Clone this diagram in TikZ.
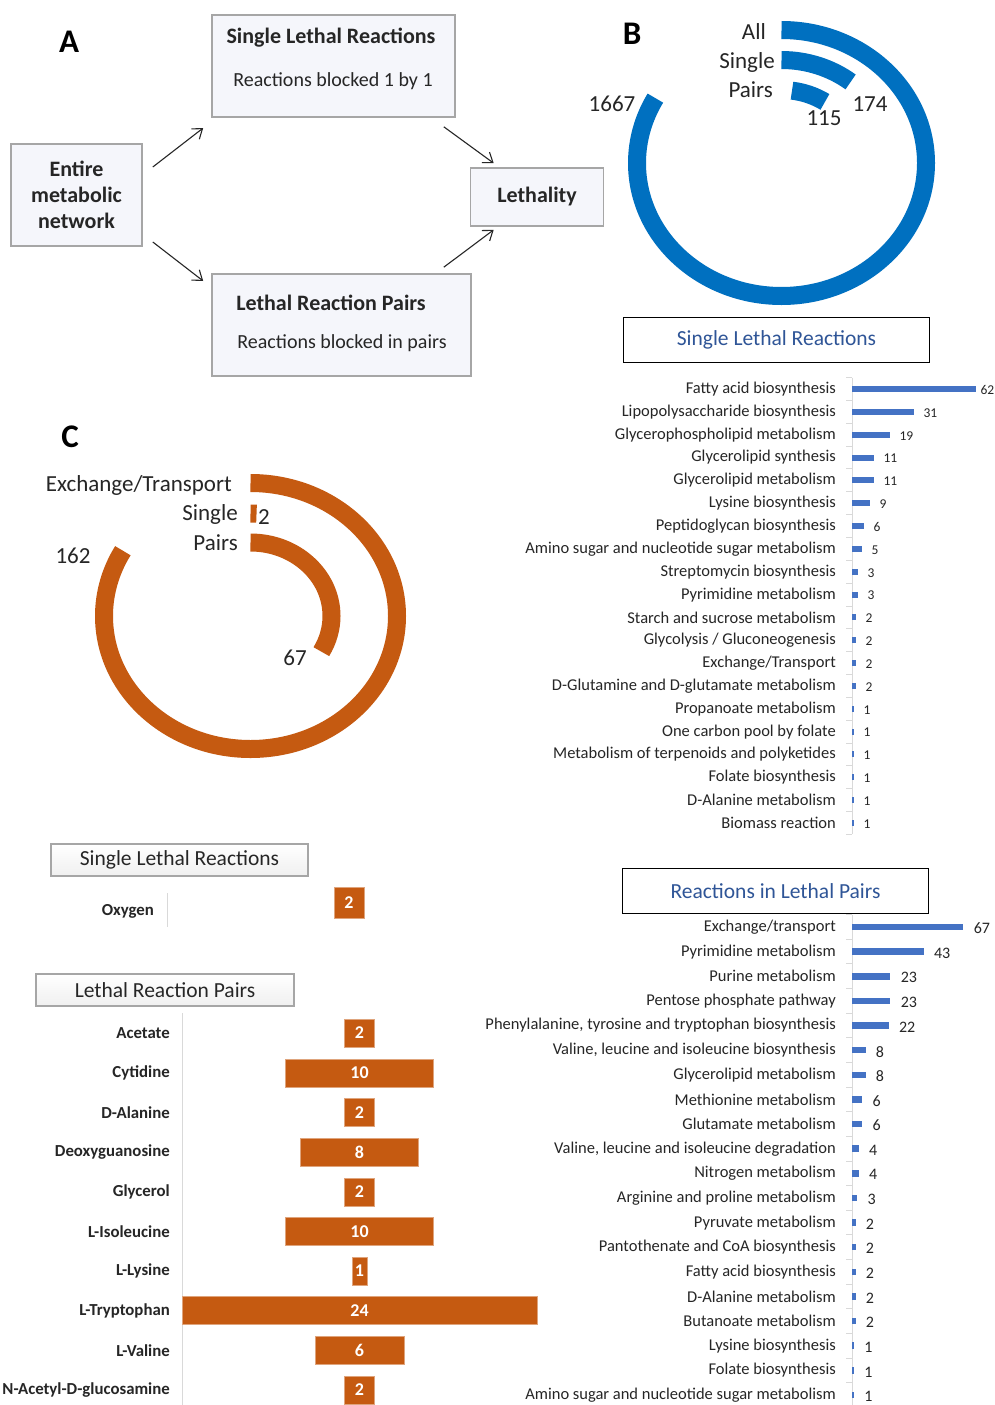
\documentclass[tikz,border=0pt]{standalone}
\usepackage{fontspec}
\setmainfont{Carlito}
\usepackage{tikz}
\usetikzlibrary{arrows.meta,calc}

\definecolor{ringblue}{HTML}{0070C0}
\definecolor{barblue}{HTML}{4472C4}
\definecolor{titleblue}{HTML}{2F5597}
\definecolor{barorange}{HTML}{C55A11}
\definecolor{boxfill}{HTML}{F5F6FB}
\definecolor{boxline}{HTML}{A6A6A6}
\definecolor{axisgray}{HTML}{D9D9D9}
\definecolor{txt}{HTML}{262626}

\tikzset{
	abox/.style={draw=boxline, line width=1.6pt, fill=boxfill, inner sep=0pt},
	atitle/.style={font=\fontsize{22}{26}\selectfont\bfseries, text=txt, inner sep=0pt},
	asub/.style={font=\fontsize{20}{24}\selectfont, text=txt, inner sep=0pt},
	flow/.style={-{Straight Barb[length=9pt,width=13pt]}, line width=1.1pt, draw=txt},
	panel/.style={font=\fontsize{33}{36}\selectfont\bfseries, inner sep=0pt},
	ringlab/.style={font=\fontsize{23}{26}\selectfont, text=txt, inner sep=0pt},
	ringB/.style={draw=ringblue, line width=18pt},
	ringC/.style={draw=barorange, line width=18pt},
	charttitle/.style={draw=black, line width=1.5pt, minimum width=306pt, minimum height=45pt, text=titleblue, font=\fontsize{21.5}{24}\selectfont},
	lbox/.style={draw=boxline, line width=1.2pt, top color=white, bottom color=gray!12, minimum height=32pt, inner sep=0pt, font=\fontsize{21.5}{24}\selectfont, text=txt},
	rowlab/.style={anchor=east, inner sep=0pt, font=\fontsize{16.5}{18}\selectfont, text=txt},
	snum/.style={inner sep=0pt, xshift=9pt, yshift=-1pt, font=\fontsize{13.5}{15}\selectfont, text=txt},
	pnum/.style={inner sep=0pt, xshift=10pt, yshift=-1.5pt, font=\fontsize{16}{18}\selectfont, text=txt},
	sbar/.style={anchor=west, fill=barblue, inner sep=0pt, minimum height=6pt},
	pbar/.style={anchor=west, fill=barblue, inner sep=0pt, minimum height=6.5pt},
	olab/.style={anchor=east, inner sep=0pt, font=\fontsize{16.8}{19}\selectfont\bfseries, text=txt},
	obar/.style={fill=barorange, draw=barorange!55!white, line width=0.6pt, minimum height=28pt, inner sep=0pt, text=white, font=\fontsize{18}{20}\selectfont\bfseries},
	axis/.style={draw=axisgray, line width=1pt}
}

\begin{document}
\begin{tikzpicture}[x=1pt, y=-1pt]
	\useasboundingbox[fill=white] (0,0) rectangle (994,1405);

	% A : workflow
	\node[panel] (pa) at (69,42) {A};
	\node[abox, minimum width=243pt, minimum height=102pt] (slr) at (333.5,66) {};
	\node[atitle] (slrt) at (331,38) {Single Lethal Reactions};
	\node[asub] (slrs) at (333,81) {Reactions blocked 1 by 1};
	\node[abox, minimum width=131pt, minimum height=102pt, align=center, font=\fontsize{22}{26}\selectfont\bfseries, text=txt] (ent) at (76.5,195) {Entire\\metabolic\\network};
	\node[abox, minimum width=133pt, minimum height=58pt, font=\fontsize{22}{26}\selectfont\bfseries, text=txt] (leth) at (537,197) {Lethality};
	\node[abox, minimum width=259pt, minimum height=102pt] (lrp) at (341.5,325) {};
	\node[atitle] (lrpt) at (331,303) {Lethal Reaction Pairs};
	\node[asub] (lrps) at (342,343) {Reactions blocked in pairs};

	\draw[flow] ($(ent.east)+(10,-28)$) -- ($(slr.west)+(-8,62)$);
	\draw[flow] ($(ent.east)+(10,47)$) -- ($(lrp.west)+(-8,-44)$);
	\draw[flow] ($(slr.south east)+(-12,9)$) -- ($(leth.north west)+(24,-4)$);
	\draw[flow] ($(lrp.north east)+(-28,-6)$) -- ($(leth.south west)+(24,3)$);

	% B : blue rings
	\node[panel] (pb) at (632,34) {B};
	\coordinate (cb) at (781.5,163);
	\draw[ringB] ($(cb)+(90:144.5pt and 133pt)$) arc[start angle=90, end angle=-209.2, x radius=144.5pt, y radius=133pt];
	\draw[ringB] ($(cb)+(90:112pt and 103pt)$) arc[start angle=90, end angle=51.9, x radius=112pt, y radius=103pt];
	\draw[ringB] ($(cb)+(82.4:79.3pt and 73pt)$) arc[start angle=82.4, end angle=56.8, x radius=79.3pt, y radius=73pt];
	\node[ringlab, anchor=east] (ball) at (766,32) {All};
	\node[ringlab, anchor=east] (bsin) at (775,62) {Single};
	\node[ringlab, anchor=east] (bpai) at (773,90) {Pairs};
	\node[ringlab] (b1667) at (612,104) {1667};
	\node[ringlab] (b174) at (870,104) {174};
	\node[ringlab] (b115) at (824,118) {115};

	% C : orange rings
	\node[panel] (pc) at (70,437) {C};
	\coordinate (cc) at (250.5,616);
	\draw[ringC] ($(cc)+(90:146.5pt and 133pt)$) arc[start angle=90, end angle=-209.4, x radius=146.5pt, y radius=133pt];
	\draw[ringC] ($(cc)+(90:111.5pt and 102.5pt)$) arc[start angle=90, end angle=86.9, x radius=111.5pt, y radius=102.5pt];
	\draw[ringC] ($(cc)+(90:81pt and 73.5pt)$) arc[start angle=90, end angle=-29, x radius=81pt, y radius=73.5pt];
	\node[ringlab, anchor=east] (cex) at (232,485) {Exchange/Transport};
	\node[ringlab, anchor=east] (csin) at (238,514) {Single};
	\node[ringlab, anchor=east] (cpai) at (238,543) {Pairs};
	\node[ringlab] (c162) at (73,556) {162};
	\node[ringlab] (c67) at (295,658) {67};
	\node[ringlab] (c2) at (264,517) {2};

	% single lethal reactions, by pathway
	\node[charttitle] (st) at (776.5,340) {Single Lethal Reactions};
	\draw[axis] (852,377.6) -- (852,834.4);
	\foreach \k in {0,...,20} \draw[axis] (846,{377.6+22.84*\k}) -- (852,{377.6+22.84*\k});
	\node[rowlab] (s1) at (836,389) {Fatty acid biosynthesis};
	\node[rowlab] (s2) at (836,411.8) {Lipopolysaccharide biosynthesis};
	\node[rowlab] (s3) at (836,434.7) {Glycerophospholipid metabolism};
	\node[rowlab] (s4) at (836,457.5) {Glycerolipid synthesis};
	\node[rowlab] (s5) at (836,480.4) {Glycerolipid metabolism};
	\node[rowlab] (s6) at (836,503.2) {Lysine biosynthesis};
	\node[rowlab] (s7) at (836,526) {Peptidoglycan biosynthesis};
	\node[rowlab] (s8) at (836,548.9) {Amino sugar and nucleotide sugar metabolism};
	\node[rowlab] (s9) at (836,571.7) {Streptomycin biosynthesis};
	\node[rowlab] (s10) at (836,594.6) {Pyrimidine metabolism};
	\node[rowlab] (s11) at (836,617.4) {Starch and sucrose metabolism};
	\node[rowlab] (s12) at (836,640.2) {Glycolysis / Gluconeogenesis};
	\node[rowlab] (s13) at (836,663.1) {Exchange/Transport};
	\node[rowlab] (s14) at (836,685.9) {D-Glutamine and D-glutamate metabolism};
	\node[rowlab] (s15) at (836,708.8) {Propanoate metabolism};
	\node[rowlab] (s16) at (836,731.6) {One carbon pool by folate};
	\node[rowlab] (s17) at (836,754.4) {Metabolism of terpenoids and polyketides};
	\node[rowlab] (s18) at (836,777.3) {Folate biosynthesis};
	\node[rowlab] (s19) at (836,800.1) {D-Alanine metabolism};
	\node[rowlab] (s20) at (836,823) {Biomass reaction};
	\node[sbar, minimum width=124pt, label={[snum,xshift=-5pt]right:62}] (sb1) at (852,389) {};
	\node[sbar, minimum width=62pt, label={[snum]right:31}] (sb2) at (852,411.8) {};
	\node[sbar, minimum width=38pt, label={[snum]right:19}] (sb3) at (852,434.7) {};
	\node[sbar, minimum width=22pt, label={[snum]right:11}] (sb4) at (852,457.5) {};
	\node[sbar, minimum width=22pt, label={[snum]right:11}] (sb5) at (852,480.4) {};
	\node[sbar, minimum width=18pt, label={[snum]right:9}] (sb6) at (852,503.2) {};
	\node[sbar, minimum width=12pt, label={[snum]right:6}] (sb7) at (852,526) {};
	\node[sbar, minimum width=10pt, label={[snum]right:5}] (sb8) at (852,548.9) {};
	\node[sbar, minimum width=6pt, label={[snum]right:3}] (sb9) at (852,571.7) {};
	\node[sbar, minimum width=6pt, label={[snum]right:3}] (sb10) at (852,594.6) {};
	\node[sbar, minimum width=4pt, label={[snum]right:2}] (sb11) at (852,617.4) {};
	\node[sbar, minimum width=4pt, label={[snum]right:2}] (sb12) at (852,640.2) {};
	\node[sbar, minimum width=4pt, label={[snum]right:2}] (sb13) at (852,663.1) {};
	\node[sbar, minimum width=4pt, label={[snum]right:2}] (sb14) at (852,685.9) {};
	\node[sbar, minimum width=2pt, label={[snum]right:1}] (sb15) at (852,708.8) {};
	\node[sbar, minimum width=2pt, label={[snum]right:1}] (sb16) at (852,731.6) {};
	\node[sbar, minimum width=2pt, label={[snum]right:1}] (sb17) at (852,754.4) {};
	\node[sbar, minimum width=2pt, label={[snum]right:1}] (sb18) at (852,777.3) {};
	\node[sbar, minimum width=2pt, label={[snum]right:1}] (sb19) at (852,800.1) {};
	\node[sbar, minimum width=2pt, label={[snum]right:1}] (sb20) at (852,823) {};

	% reactions in lethal pairs, by pathway
	\node[charttitle] (pt) at (775.5,891) {Reactions in Lethal Pairs};
	\draw[axis] (852,914.7) -- (852,1405);
	\foreach \k in {0,...,19} \draw[axis] (846,{914.7+24.63*\k}) -- (852,{914.7+24.63*\k});
	\node[rowlab] (p1) at (836,927) {Exchange/transport};
	\node[rowlab] (p2) at (836,951.6) {Pyrimidine metabolism};
	\node[rowlab] (p3) at (836,976.3) {Purine metabolism};
	\node[rowlab] (p4) at (836,1000.9) {Pentose phosphate pathway};
	\node[rowlab] (p5) at (836,1025.5) {Phenylalanine, tyrosine and tryptophan biosynthesis};
	\node[rowlab] (p6) at (836,1050.2) {Valine, leucine and isoleucine biosynthesis};
	\node[rowlab] (p7) at (836,1074.8) {Glycerolipid metabolism};
	\node[rowlab] (p8) at (836,1099.4) {Methionine metabolism};
	\node[rowlab] (p9) at (836,1124) {Glutamate metabolism};
	\node[rowlab] (p10) at (836,1148.7) {Valine, leucine and isoleucine degradation};
	\node[rowlab] (p11) at (836,1173.3) {Nitrogen metabolism};
	\node[rowlab] (p12) at (836,1197.9) {Arginine and proline metabolism};
	\node[rowlab] (p13) at (836,1222.6) {Pyruvate metabolism};
	\node[rowlab] (p14) at (836,1247.2) {Pantothenate and CoA biosynthesis};
	\node[rowlab] (p15) at (836,1271.8) {Fatty acid biosynthesis};
	\node[rowlab] (p16) at (836,1296.5) {D-Alanine metabolism};
	\node[rowlab] (p17) at (836,1321.1) {Butanoate metabolism};
	\node[rowlab] (p18) at (836,1345.7) {Lysine biosynthesis};
	\node[rowlab] (p19) at (836,1370.4) {Folate biosynthesis};
	\node[rowlab] (p20) at (836,1395) {Amino sugar and nucleotide sugar metabolism};
	\node[pbar, minimum width=111.2pt, label={[pnum]right:67}] (pb1) at (852,927) {};
	\node[pbar, minimum width=71.4pt, label={[pnum]right:43}] (pb2) at (852,951.6) {};
	\node[pbar, minimum width=38.2pt, label={[pnum]right:23}] (pb3) at (852,976.3) {};
	\node[pbar, minimum width=38.2pt, label={[pnum]right:23}] (pb4) at (852,1000.9) {};
	\node[pbar, minimum width=36.5pt, label={[pnum]right:22}] (pb5) at (852,1025.5) {};
	\node[pbar, minimum width=13.3pt, label={[pnum]right:8}] (pb6) at (852,1050.2) {};
	\node[pbar, minimum width=13.3pt, label={[pnum]right:8}] (pb7) at (852,1074.8) {};
	\node[pbar, minimum width=10pt, label={[pnum]right:6}] (pb8) at (852,1099.4) {};
	\node[pbar, minimum width=10pt, label={[pnum]right:6}] (pb9) at (852,1124) {};
	\node[pbar, minimum width=6.6pt, label={[pnum]right:4}] (pb10) at (852,1148.7) {};
	\node[pbar, minimum width=6.6pt, label={[pnum]right:4}] (pb11) at (852,1173.3) {};
	\node[pbar, minimum width=5pt, label={[pnum]right:3}] (pb12) at (852,1197.9) {};
	\node[pbar, minimum width=3.3pt, label={[pnum]right:2}] (pb13) at (852,1222.6) {};
	\node[pbar, minimum width=3.3pt, label={[pnum]right:2}] (pb14) at (852,1247.2) {};
	\node[pbar, minimum width=3.3pt, label={[pnum]right:2}] (pb15) at (852,1271.8) {};
	\node[pbar, minimum width=3.3pt, label={[pnum]right:2}] (pb16) at (852,1296.5) {};
	\node[pbar, minimum width=3.3pt, label={[pnum]right:2}] (pb17) at (852,1321.1) {};
	\node[pbar, minimum width=1.7pt, label={[pnum]right:1}] (pb18) at (852,1345.7) {};
	\node[pbar, minimum width=1.7pt, label={[pnum]right:1}] (pb19) at (852,1370.4) {};
	\node[pbar, minimum width=1.7pt, label={[pnum]right:1}] (pb20) at (852,1395) {};

	% exchange reactions
	\node[lbox, minimum width=257pt] (ot1) at (179.5,860) {Single Lethal Reactions};
	\draw[axis] (167,893) -- (167,927);
	\node[olab] (oxy) at (154,911) {Oxygen};
	\node[obar, minimum width=30pt, minimum height=31pt] (oxyb) at (349,902.5) {2};

	\node[lbox, minimum width=258pt] (ot2) at (165,990) {Lethal Reaction Pairs};
	\draw[axis] (182,1013) -- (182,1405);
	\node[olab] (o1) at (170,1033) {Acetate};
	\node[olab] (o2) at (170,1073) {Cytidine};
	\node[olab] (o3) at (170,1112.6) {D-Alanine};
	\node[olab] (o4) at (170,1152.2) {Deoxyguanosine};
	\node[olab] (o5) at (170,1191.8) {Glycerol};
	\node[olab] (o6) at (170,1231.4) {L-Isoleucine};
	\node[olab] (o7) at (170,1271) {L-Lysine};
	\node[olab] (o8) at (170,1310.6) {L-Tryptophan};
	\node[olab] (o9) at (170,1350.2) {L-Valine};
	\node[olab] (o10) at (170,1389.8) {N-Acetyl-D-glucosamine};
	\node[obar, minimum width=29.6pt] (ob1) at (359.5,1033) {2};
	\node[obar, minimum width=148pt] (ob2) at (359.5,1073) {10};
	\node[obar, minimum width=29.6pt] (ob3) at (359.5,1112.6) {2};
	\node[obar, minimum width=118.4pt] (ob4) at (359.5,1152.2) {8};
	\node[obar, minimum width=29.6pt] (ob5) at (359.5,1191.8) {2};
	\node[obar, minimum width=148pt] (ob6) at (359.5,1231.4) {10};
	\node[obar, minimum width=14.8pt] (ob7) at (359.5,1271) {1};
	\node[obar, minimum width=355.2pt] (ob8) at (359.5,1310.6) {24};
	\node[obar, minimum width=88.8pt] (ob9) at (359.5,1350.2) {6};
	\node[obar, minimum width=29.6pt] (ob10) at (359.5,1389.8) {2};

\end{tikzpicture}
\end{document}
